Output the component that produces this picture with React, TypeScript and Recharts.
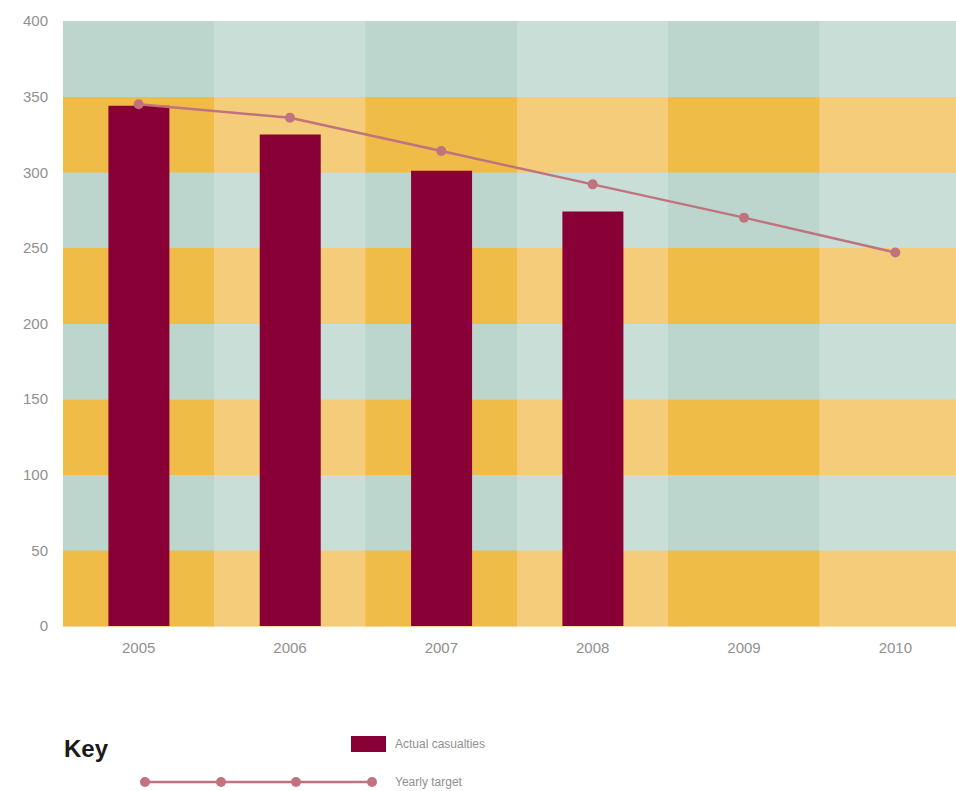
import React from 'react';
import { ComposedChart, Bar, Line, XAxis, YAxis, ReferenceArea } from 'recharts';

const years = ['2005', '2006', '2007', '2008', '2009', '2010'];
const actualCasualties = [344, 325, 301, 274, null, null];
const yearlyTarget = [345, 336, 314, 292, 270, 247];
const yTicks = [0, 50, 100, 150, 200, 250, 300, 350, 400];

const data = years.map((year, i) => ({
    year,
    actual: actualCasualties[i],
    target: yearlyTarget[i],
}));

// background grid colours: [horizontal band parity][column parity]
const ORANGE = ['#F0BC48', '#F4CC7A'];
const TEAL = ['#BDD6CD', '#C8DED6'];

const BAR = '#880035';
const LINE = '#C0737F';
const FONT = '"Liberation Sans", Arial, sans-serif';

export default function App() {
    const bands = yTicks.slice(0, -1).map((y, i) => ({ y1: y, y2: yTicks[i + 1], orange: i % 2 === 0 }));

    // fixed so the last column can run to the window's right edge
    return (
        <div style={{ position: 'fixed', left: 0, top: 0, width: 956, height: 791, overflow: 'hidden', fontFamily: FONT, background: '#fff' }}>
            <ComposedChart
                width={971}
                height={670}
                data={data}
                margin={{ top: 21, right: 0, bottom: 0, left: 0 }}
                barCategoryGap="30%"
            >
                {bands.map((b) =>
                    years.map((year, ci) => (
                        <ReferenceArea
                            key={`${b.y1}-${year}`}
                            x1={year}
                            x2={year}
                            y1={b.y1}
                            y2={b.y2}
                            fill={(b.orange ? ORANGE : TEAL)[ci % 2]}
                            fillOpacity={1}
                            stroke={(b.orange ? ORANGE : TEAL)[ci % 2]}
                            strokeWidth={0.6}
                            shapeRendering="crispEdges"
                            ifOverflow="visible"
                        />
                    ))
                )}
                <XAxis
                    dataKey="year"
                    axisLine={false}
                    tickLine={false}
                    height={44}
                    tickMargin={10}
                    tick={{ fill: '#909090', fontSize: 15, fontFamily: FONT }}
                />
                <YAxis
                    domain={[0, 400]}
                    ticks={yTicks}
                    axisLine={false}
                    tickLine={false}
                    width={63}
                    tickMargin={9}
                    tick={{ fill: '#909090', fontSize: 15, fontFamily: FONT }}
                />
                <Bar dataKey="actual" fill={BAR} isAnimationActive={false} />
                <Line
                    dataKey="target"
                    stroke={LINE}
                    strokeWidth={2.5}
                    dot={{ r: 5, fill: LINE, stroke: 'none' }}
                    activeDot={false}
                    isAnimationActive={false}
                />
            </ComposedChart>

            <div style={{ position: 'absolute', left: 64, top: 735, fontSize: 24, fontWeight: 'bold', color: '#1a1a1a' }}>Key</div>
            <div style={{ position: 'absolute', left: 351, top: 736, width: 35, height: 16, background: BAR }} />
            <div style={{ position: 'absolute', left: 395, top: 737, fontSize: 12, color: '#909090' }}>Actual casualties</div>
            <svg style={{ position: 'absolute', left: 138, top: 772 }} width={245} height={20}>
                <line x1={7} y1={10} x2={234} y2={10} stroke={LINE} strokeWidth={2.5} />
                {[7, 83, 158, 234].map((cx) => (
                    <circle key={cx} cx={cx} cy={10} r={5} fill={LINE} />
                ))}
            </svg>
            <div style={{ position: 'absolute', left: 395, top: 775, fontSize: 12, color: '#909090' }}>Yearly target</div>
        </div>
    );
}
